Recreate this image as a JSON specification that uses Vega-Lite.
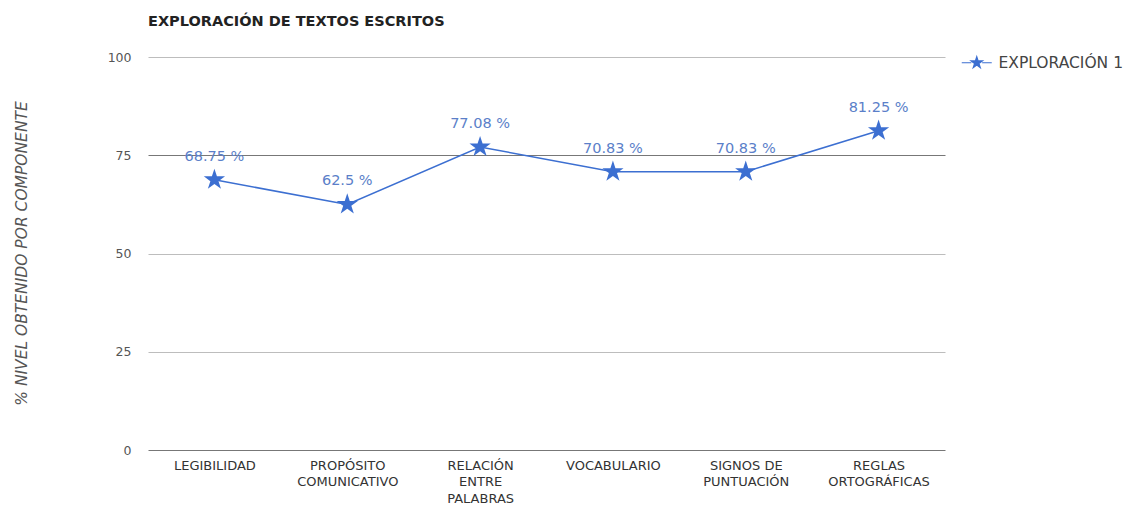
{
  "$schema": "https://vega.github.io/schema/vega-lite/v6.json",
  "autosize": {"type": "none"},
  "padding": {"left": 148, "top": 57, "right": 192, "bottom": 58},
  "width": 797,
  "height": 393,
  "background": "white",
  "config": {"view": {"stroke": null}},
  "title": {
    "text": "EXPLORACIÓN DE TEXTOS ESCRITOS",
    "anchor": "start",
    "frame": "group",
    "offset": 22,
    "font": "DejaVu Sans",
    "fontSize": 14.5,
    "fontWeight": "bold",
    "color": "#222222"
  },
  "data": {
    "values": [
      {"componente": "LEGIBILIDAD", "valor": 68.75, "etiqueta": "68.75 %", "serie": "EXPLORACIÓN 1"},
      {"componente": "PROPÓSITO COMUNICATIVO", "valor": 62.5, "etiqueta": "62.5 %", "serie": "EXPLORACIÓN 1"},
      {"componente": "RELACIÓN ENTRE PALABRAS", "valor": 77.08, "etiqueta": "77.08 %", "serie": "EXPLORACIÓN 1"},
      {"componente": "VOCABULARIO", "valor": 70.83, "etiqueta": "70.83 %", "serie": "EXPLORACIÓN 1"},
      {"componente": "SIGNOS DE PUNTUACIÓN", "valor": 70.83, "etiqueta": "70.83 %", "serie": "EXPLORACIÓN 1"},
      {"componente": "REGLAS ORTOGRÁFICAS", "valor": 81.25, "etiqueta": "81.25 %", "serie": "EXPLORACIÓN 1"}
    ]
  },
  "encoding": {
    "x": {
      "field": "componente",
      "type": "nominal",
      "sort": null,
      "scale": {"type": "point", "padding": 0.5},
      "axis": {
        "title": null,
        "labelAngle": 0,
        "domain": false,
        "ticks": false,
        "labelPadding": 9,
        "labelFont": "DejaVu Sans",
        "labelFontSize": 13,
        "labelColor": "#333333",
        "labelLineHeight": 16.5,
        "labelBaseline": "top",
        "labelExpr": "datum.value == 'PROPÓSITO COMUNICATIVO' ? ['PROPÓSITO', 'COMUNICATIVO'] : datum.value == 'RELACIÓN ENTRE PALABRAS' ? ['RELACIÓN', 'ENTRE', 'PALABRAS'] : datum.value == 'SIGNOS DE PUNTUACIÓN' ? ['SIGNOS DE', 'PUNTUACIÓN'] : datum.value == 'REGLAS ORTOGRÁFICAS' ? ['REGLAS', 'ORTOGRÁFICAS'] : datum.value"
      }
    },
    "y": {
      "field": "valor",
      "type": "quantitative",
      "scale": {"domain": [0, 100], "nice": false},
      "axis": {
        "values": [0, 25, 50, 75, 100],
        "title": "% NIVEL OBTENIDO POR COMPONENTE",
        "titleFont": "DejaVu Sans",
        "titleFontSize": 15.5,
        "titleFontStyle": "italic",
        "titleFontWeight": "normal",
        "titleColor": "#555555",
        "titleX": -127,
        "titleY": 196,
        "titleAlign": "center",
        "titleBaseline": "middle",
        "domain": false,
        "ticks": false,
        "labelPadding": 17,
        "labelFont": "DejaVu Sans",
        "labelFontSize": 12.5,
        "labelColor": "#555555",
        "grid": true,
        "gridColor": {"condition": {"test": "datum.value === 75 || datum.value === 0", "value": "#777777"}, "value": "#bdbdbd"},
        "gridWidth": 1
      }
    }
  },
  "layer": [
    {
      "mark": {"type": "line", "color": "#3c6fd1", "strokeWidth": 1.5}
    },
    {
      "mark": {
        "type": "point",
        "filled": true,
        "opacity": 1,
        "size": 500,
        "shape": "M0,-1L0.2245,-0.309L0.951,-0.309L0.363,0.118L0.588,0.809L0,0.382L-0.588,0.809L-0.363,0.118L-0.951,-0.309L-0.2245,-0.309Z"
      },
      "encoding": {
        "color": {
          "field": "serie",
          "type": "nominal",
          "scale": {"range": ["#3c6fd1"]},
          "legend": {
            "title": null,
            "orient": "none",
            "legendX": 821,
            "legendY": -2,
            "symbolType": "M-2.5,0L-0.9,0M0.9,0L2.5,0M0,-1L0.2245,-0.309L0.951,-0.309L0.363,0.118L0.588,0.809L0,0.382L-0.588,0.809L-0.363,0.118L-0.951,-0.309L-0.2245,-0.309Z",
            "symbolSize": 144,
            "symbolStrokeColor": "#3c6fd1",
            "symbolStrokeWidth": 1.2,
            "symbolFillColor": "#3c6fd1",
            "symbolOpacity": 1,
            "labelOffset": 14,
            "labelFont": "DejaVu Sans",
            "labelFontSize": 15.5,
            "labelColor": "#444444"
          }
        }
      }
    },
    {
      "mark": {
        "type": "text",
        "dy": -23,
        "font": "DejaVu Sans",
        "fontSize": 14.5,
        "color": "#5b7fc9"
      },
      "encoding": {"text": {"field": "etiqueta", "type": "nominal"}}
    }
  ]
}
